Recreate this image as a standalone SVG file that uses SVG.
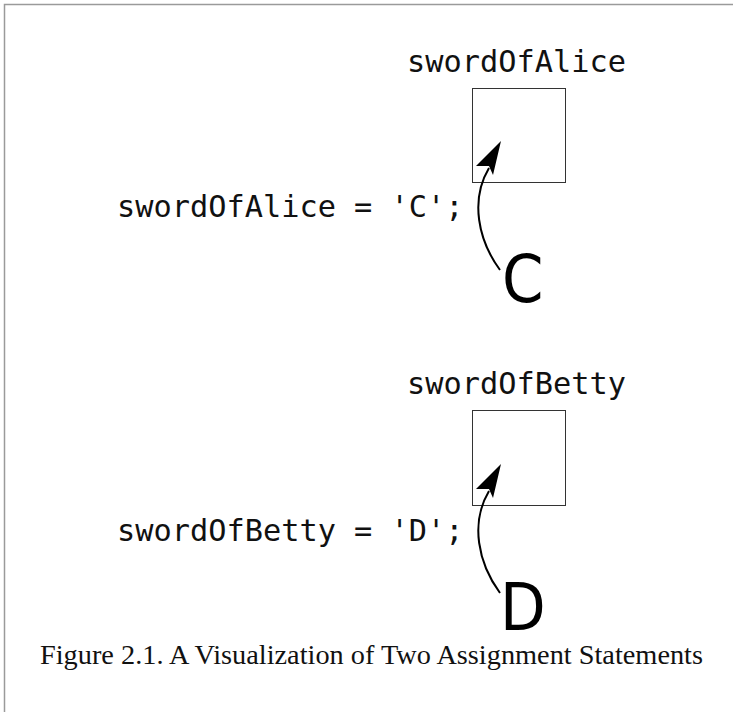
<svg xmlns="http://www.w3.org/2000/svg" width="733" height="715" viewBox="0 0 733 715">
<style>
.mono{font-family:"DejaVu Sans Mono","Liberation Mono",monospace;font-size:30.3px;fill:#111}
.big{font-family:"DejaVu Sans Condensed","DejaVu Sans",sans-serif;font-size:66px;fill:#000}
.cap{font-family:"Liberation Serif","DejaVu Serif",serif;font-size:26.5px;fill:#111}
.box{fill:#fff;stroke:#333;stroke-width:1}
.conn{fill:none;stroke:#000;stroke-width:2}
.frame{fill:none;stroke:#9a9a9a;stroke-width:1.5}
</style>
<rect width="733" height="715" fill="#fff"/>
<path class="frame" d="M4.5,712 V4.5 H733"/>
<g id="alice">
<text class="mono" x="407" y="72">swordOfAlice</text>
<rect class="box" x="472.5" y="88.5" width="93" height="94"/>
<text class="mono" x="117" y="217">swordOfAlice = 'C';</text>
<text class="big" x="502" y="302">C</text>
</g>
<g id="betty">
<text class="mono" x="407" y="394">swordOfBetty</text>
<rect class="box" x="472.5" y="410.5" width="93" height="95"/>
<text class="mono" x="117" y="541">swordOfBetty = 'D';</text>
<text class="big" x="500" y="630">D</text>
</g>
<g id="connectors">
<path class="conn" d="M500,270 C478,240 470,200 489,168"/>
<path d="M501,141 L476,166 L489,166 L493,175 Z" fill="#000"/>
<path class="conn" d="M500,593 C478,563 470,523 489,491"/>
<path d="M501,464 L476,489 L489,489 L493,498 Z" fill="#000"/>
</g>
<text class="cap" x="40" y="664" textLength="663" lengthAdjust="spacingAndGlyphs">Figure 2.1. A Visualization of Two Assignment Statements</text>
</svg>
